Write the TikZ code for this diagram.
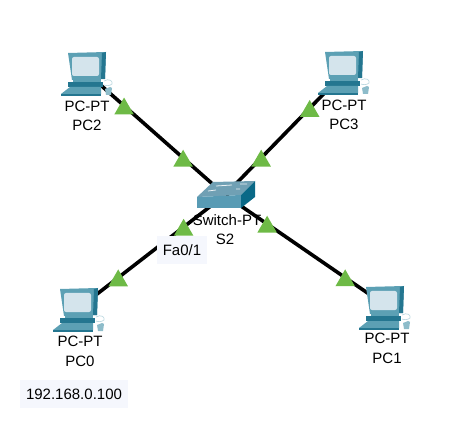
\documentclass[tikz,border=0pt]{standalone}
\usepackage{fontspec}
\setmainfont{Liberation Sans}
\usetikzlibrary{positioning, shapes.geometric}
\definecolor{pcbody}{RGB}{92,160,180}
\definecolor{pcdark}{RGB}{36,118,144}
\definecolor{pcscreen}{RGB}{212,228,236}
\definecolor{swtop}{RGB}{112,160,180}
\definecolor{swfront}{RGB}{88,155,180}
\definecolor{swside}{RGB}{10,105,135}
\definecolor{linkgreen}{RGB}{110,186,70}
\definecolor{notefill}{RGB}{245,247,253}
\tikzset{
	device/.style={inner sep=0pt, minimum size=1pt},
	devtext/.style={inner sep=0pt, font=\fontsize{15}{18}\selectfont},
	note/.style={devtext, fill=notefill, text width=#1, align=center, minimum height=28pt},
	link/.style={line width=3.6pt, black},
	linkup/.style={regular polygon, regular polygon sides=3, fill=linkgreen, inner sep=0pt, minimum size=22.5pt, yshift=-3pt},
	pcicon/.pic={
		\fill[pcbody] (-14,13) rectangle (14,17);
		\fill[pcdark] (-19,16) -- (16,16) -- (16,21) -- (-19,21) -- cycle;
		\fill[pcbody] (-26,28) -- (-17,21) -- (14,21) -- (14,28) -- cycle;
		\fill[pcdark] (-26,28) rectangle (14,30);
		\fill[pcbody] (-19,-13) -- (19,-14) -- (18,13) -- (-15,14) -- cycle;
		\fill[pcdark] (15,-13) -- (19,-14) -- (18,13) -- (14,13) -- cycle;
		\fill[pcscreen, rounded corners=2pt] (-15,-9) rectangle (12,10);
		\draw[pcbody!40, line width=.7pt] (17,15) .. controls (22,12) and (26,15) .. (25,18) .. controls (23,20) and (19,20) .. (17,19);
		\fill[pcbody!70] (18,23) -- (23,21) -- (25,22) -- (24,29) -- (19,29) -- cycle;
	}
}
\begin{document}
\begin{tikzpicture}[x=1pt, y=-1pt, on grid]
	\useasboundingbox (0,0) rectangle (455,446);
	\node[device] (s2) at (225,195) {};
	\node[device] (pc2) at (87,66) {};
	\node[device] (pc3) at (344,65) {};
	\node[device] (pc0) at (79,302) {};
	\node[device] (pc1) at (385,300) {};
	\coordinate[below=7pt of pc2] (port2);
	\coordinate[below=8pt of pc3] (port3);
	\coordinate[below=6pt of pc0] (port0);
	\coordinate[below=5pt of pc1] (port1);
	\path[link]
	(port2) edge node[linkup, pos=0.27] (up2a) {} node[linkup, pos=0.70] (up2b) {} (s2)
	(port3) edge node[linkup, pos=0.29] (up3a) {} node[linkup, pos=0.70] (up3b) {} (s2)
	(port0) edge node[linkup, pos=0.27] (up0a) {} node[linkup, pos=0.72] (up0b) {} (s2)
	(port1) edge node[linkup, pos=0.25] (up1a) {} node[linkup, pos=0.74] (up1b) {} (s2);
	% devices
	\pic at (pc2) {pcicon};
	\pic at (pc3) {pcicon};
	\pic at (pc0) {pcicon};
	\pic at (pc1) {pcicon};
	\fill[swtop] (197,197) -- (213,182) -- (255,181) -- (241,195) -- cycle;
	\fill[swfront] (197,197) -- (241,195) -- (241,208) -- (197,208) -- cycle;
	\fill[swside] (241,195) -- (255,181) -- (255,197) -- (241,208) -- cycle;
	\draw[white!85!swtop, line width=.8pt] (216,186) -- (232,185) (240,184) -- (247,184) (208,191) -- (216,190) (236,189) -- (240,189);
	% labels
	\node[devtext] (pc2type) [below=40pt of pc2] {PC-PT};
	\node[devtext] (pc2name) [below=19pt of pc2type] {PC2};
	\node[devtext] (pc3type) [below=40pt of pc3] {PC-PT};
	\node[devtext] (pc3name) [below=19pt of pc3type] {PC3};
	\node[devtext] (pc0type) [below=39pt of pc0, xshift=1pt] {PC-PT};
	\node[devtext] (pc0name) [below=20pt of pc0type] {PC0};
	\node[devtext] (pc1type) [below=38pt of pc1, xshift=2pt] {PC-PT};
	\node[devtext] (pc1name) [below=20pt of pc1type] {PC1};
	\node[devtext] (s2type) [below=25pt of s2, xshift=2pt] {Switch-PT};
	\node[devtext] (s2name) [below=19pt of s2type, xshift=-2pt] {S2};
	\node[note=50pt] (port) at (182,250) {Fa0/1};
	\node[note=108pt] (addr) at (74,394) {192.168.0.100};
\end{tikzpicture}
\end{document}
